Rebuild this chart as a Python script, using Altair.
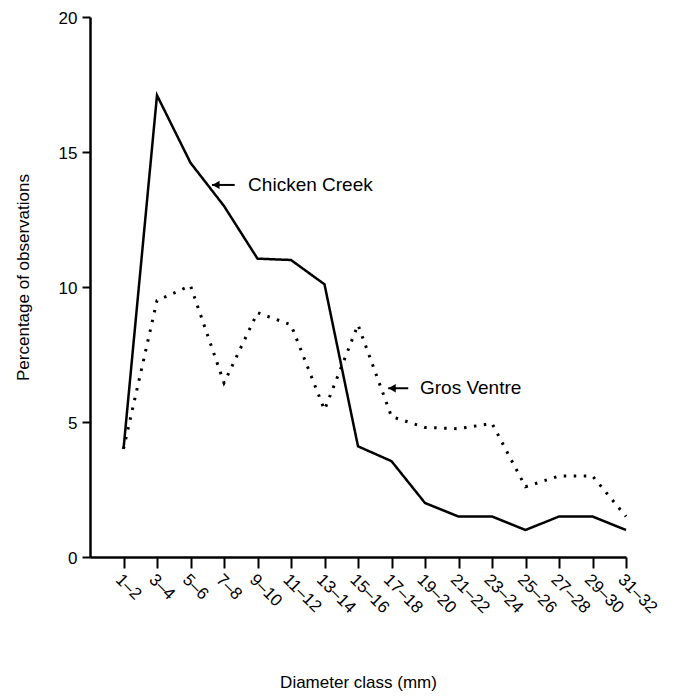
import altair as alt
import pandas as pd

categories = ["1–2", "3–4", "5–6", "7–8", "9–10", "11–12", "13–14", "15–16",
              "17–18", "19–20", "21–22", "23–24", "25–26", "27–28", "29–30", "31–32"]
chicken_creek = [4.0, 17.1, 14.6, 13.0, 11.05, 11.0, 10.1, 4.1,
                 3.55, 2.0, 1.5, 1.5, 1.0, 1.5, 1.5, 1.0]
gros_ventre = [4.0, 9.5, 10.05, 6.45, 9.05, 8.6, 5.45, 8.6,
               5.2, 4.8, 4.75, 4.95, 2.6, 3.0, 3.0, 1.5]

series_names = ["Chicken Creek", "Gros Ventre"]

# annotation positions (in data units: class index, percentage)
arrow_tip = [3.64, 8.9]
arrow_tail = [4.32, 9.5]
arrow_val = [13.78, 6.25]
label_idx = [4.72, 9.85]

rows = []
for name, vals in zip(series_names, [chicken_creek, gros_ventre]):
    for i, v in enumerate(vals):
        rows.append({"idx": i + 1, "value": v, "series": name})
df = pd.DataFrame(rows)

ann = pd.DataFrame({
    "series": series_names,
    "tip": arrow_tip,
    "tail": arrow_tail,
    "label_idx": label_idx,
    "value": arrow_val,
})

FONT = "Liberation Sans"
label_js = "[" + ",".join("'" + c + "'" for c in categories) + "][datum.value - 1]"

xscale = alt.Scale(domain=[0, 16], nice=False, zero=False)
yscale = alt.Scale(domain=[0, 20], nice=False)

xaxis = alt.Axis(values=list(range(1, 17)), labelExpr=label_js,
                 labelAngle=45, labelAlign="left", labelBaseline="top",
                 labelFontSize=17, labelPadding=3, labelOverlap=False,
                 labelFlush=False, labelBound=False, tickSize=11, tickWidth=2,
                 domainWidth=2.5, grid=False,
                 title="Diameter class (mm)", titleFontSize=17,
                 titleFontWeight="normal", titleY=117, titleBaseline="top")
yaxis = alt.Axis(values=[0, 5, 10, 15, 20], tickSize=8, tickWidth=2,
                 domainWidth=2.5, grid=False, labelFontSize=17,
                 labelPadding=5, labelOffset=1, title="Percentage of observations",
                 titleFontSize=17, titleFontWeight="normal",
                 titleX=-62, titleY=260, titleBaseline="alphabetic",
                 titleAngle=-90)


def X(field):
    return alt.X(field, scale=xscale, axis=xaxis)


def Y(field):
    return alt.Y(field, scale=yscale, axis=yaxis)


lines = alt.Chart(df).mark_line(color="black").encode(
    x=X("idx:Q"),
    y=Y("value:Q"),
    strokeDash=alt.StrokeDash("series:N",
                              scale=alt.Scale(domain=series_names,
                                              range=[[1, 0], [2.5, 7.5]]),
                              legend=None),
    strokeWidth=alt.StrokeWidth("series:N",
                                scale=alt.Scale(domain=series_names, range=[2.5, 3]),
                                legend=None),
    detail="series:N",
)

shafts = alt.Chart(ann).mark_rule(color="black", strokeWidth=2).encode(
    x=X("tip:Q"),
    x2="tail:Q",
    y=Y("value:Q"),
)

heads = alt.Chart(ann).mark_point(shape="triangle-left", filled=True, size=70,
                                  color="black", opacity=1, xOffset=4).encode(
    x=X("tip:Q"),
    y=Y("value:Q"),
)

labels = alt.Chart(ann).mark_text(align="left", baseline="middle", fontSize=19,
                                  font=FONT, color="black").encode(
    x=X("label_idx:Q"),
    y=Y("value:Q"),
    text="series:N",
)

chart = alt.layer(lines, shafts, heads, labels).properties(
    width=536, height=540,
    autosize=alt.AutoSizeParams(type="none"),
    padding={"left": 82, "top": 9, "right": 40, "bottom": 135},
).configure(font=FONT).configure_axis(
    domainColor="black", tickColor="black", labelColor="black", titleColor="black",
    labelFont=FONT, titleFont=FONT, labelOverlap=False,
).configure_view(stroke=None)

chart.save("out.html", embed_options={"renderer": "svg", "actions": False})
